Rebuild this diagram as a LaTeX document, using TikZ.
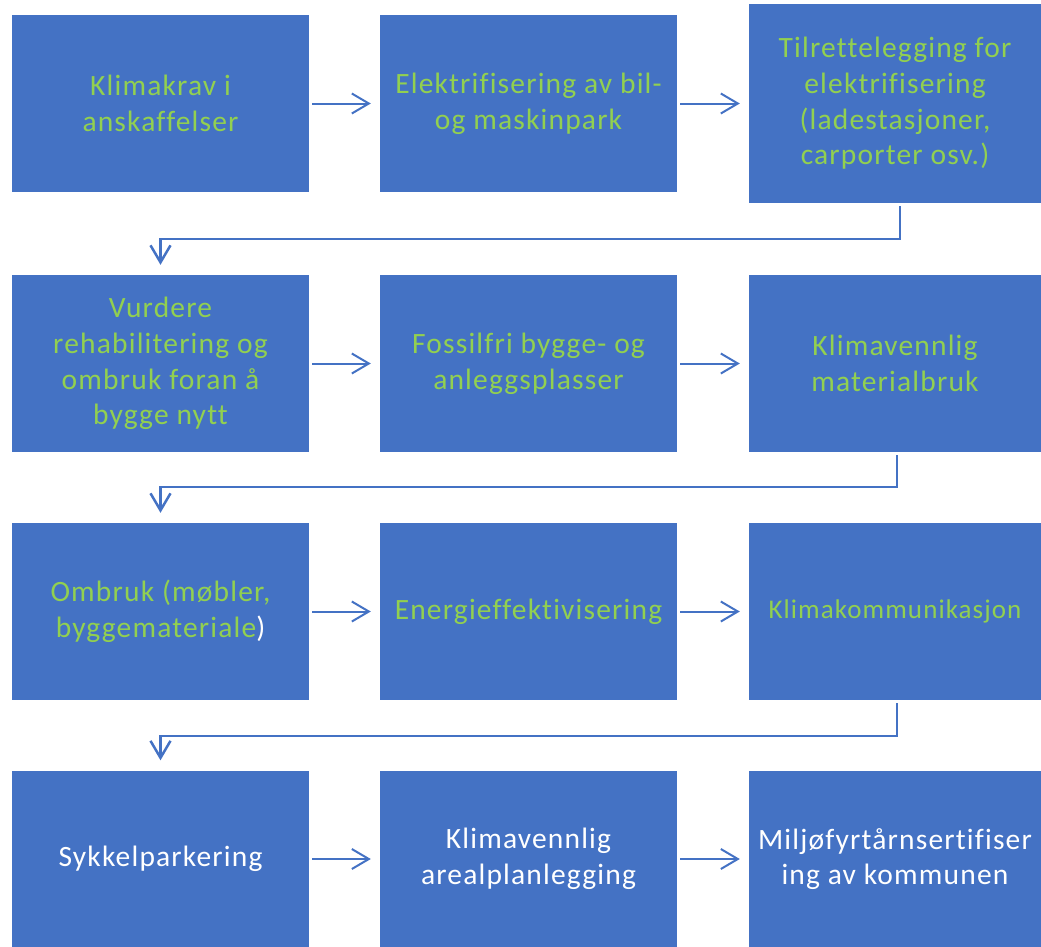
\documentclass[tikz,border=0pt]{standalone}
\usepackage{fontspec}
\setmainfont[LetterSpace=4, Ligatures=NoCommon]{Carlito}
\usetikzlibrary{positioning,arrows.meta}
\definecolor{boxblue}{HTML}{4472C4}
\definecolor{txtgreen}{HTML}{92D050}

\begin{document}
\begin{tikzpicture}[
    x=1pt, y=-1pt,
    box/.style={fill=boxblue, draw=none, minimum width=297pt, minimum height=177pt, inner sep=0pt, align=center, font=\fontsize{29.5}{35.7}\selectfont},
    gtxt/.style={text=txtgreen},
    wtxt/.style={text=white},
    arr/.style={-{Straight Barb[length=17pt,width=20pt]}, line width=2pt, boxblue, shorten <=3pt, shorten >=9pt},
    elbow/.style={arr, line width=2.5pt, shorten <=3pt, shorten >=10pt}
]
    \useasboundingbox (0,0) rectangle (1041,946);

    % --- Row 1 ---
    \node[box, gtxt] (a1) at (160.5,103.5) {Klimakrav i\\anskaffelser};
    \node[box, gtxt] (a2) at (528.5,103.5) {Elektrifisering av bil-\\og maskinpark};
    \node[box, gtxt, minimum width=292pt, minimum height=199pt] (a3) at (895,103.5) {Tilrettelegging for\\elektrifisering\\(ladestasjoner,\\carporter osv.)};
    \draw[arr] (a1) -- (a2);
    \draw[arr] (a2) -- (a3);

    % --- Row 2 ---
    \node[box, gtxt] (b1) at (160.5,363.5) {Vurdere\\rehabilitering og\\ombruk foran å\\bygge nytt};
    \node[box, gtxt] (b2) at (528.5,363.5) {Fossilfri bygge- og\\anleggsplasser};
    \node[box, gtxt, minimum width=292pt] (b3) at (895,363.5) {Klimavennlig\\materialbruk};
    \draw[arr] (b1) -- (b2);
    \draw[arr] (b2) -- (b3);
    \draw[elbow] ([xshift=5pt]a3.south) -- ++(0,36) -| (b1.north);

    % --- Row 3 ---
    \node[box, gtxt] (c1) at (160.5,611.5) {Ombruk (møbler,\\byggemateriale\textcolor{white}{)}};
    \node[box, gtxt] (c2) at (528.5,611.5) {Energieffektivisering};
    \node[box, gtxt, minimum width=292pt, font=\fontsize{27}{32}\selectfont] (c3) at (895,611.5) {Klimakommunikasjon};
    \draw[arr] (c1) -- (c2);
    \draw[arr] (c2) -- (c3);
    \draw[elbow] ([xshift=2pt]b3.south) -- ++(0,35) -| (c1.north);

    % --- Row 4 ---
    \node[box, wtxt] (d1) at (160.5,859) {Sykkelparkering};
    \node[box, wtxt] (d2) at (528.5,859) {Klimavennlig\\arealplanlegging};
    \node[box, wtxt, minimum width=292pt] (d3) at (895,859) {Miljøfyrtårnsertifiser\\ing av kommunen};
    \draw[arr] (d1) -- (d2);
    \draw[arr] (d2) -- (d3);
    \draw[elbow] ([xshift=2pt]c3.south) -- ++(0,36) -| (d1.north);
\end{tikzpicture}
\end{document}
